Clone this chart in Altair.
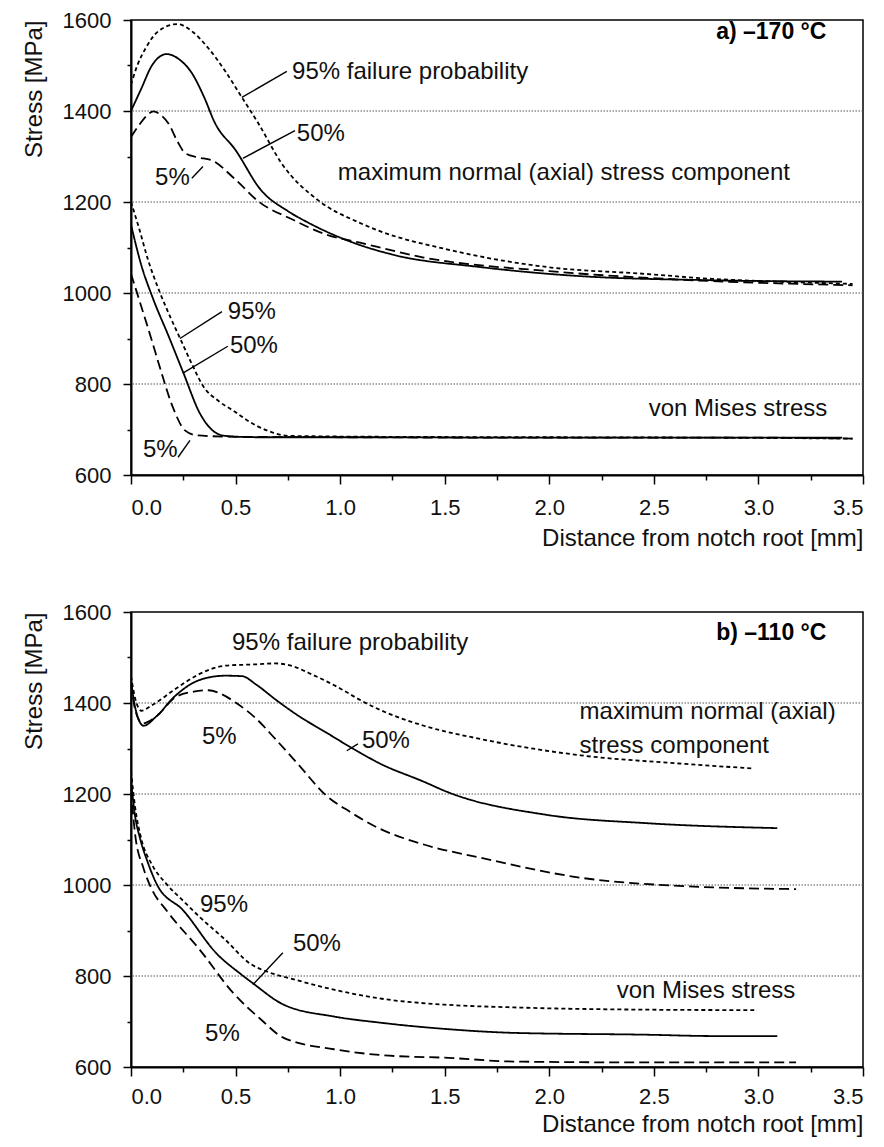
import altair as alt
import pandas as pd

FONT = "Liberation Sans"

# ---------------- Panel a) -170 °C ----------------
a_ax95_x = [0.0, 0.03, 0.07, 0.13, 0.22, 0.30, 0.37, 0.45, 0.53, 0.61, 0.72, 0.90, 1.09, 1.19, 1.51, 1.99, 2.46, 2.78, 3.10, 3.45]
a_ax95_y = [1458, 1500, 1538, 1575, 1591, 1572, 1538, 1488, 1430, 1372, 1285, 1202, 1155, 1136, 1096, 1057, 1042, 1031, 1025, 1020]
a_ax50_x = [0.0, 0.05, 0.10, 0.17, 0.24, 0.29, 0.35, 0.40, 0.50, 0.62, 0.75, 0.85, 1.02, 1.245, 1.67, 2.15, 2.78, 3.40]
a_ax50_y = [1400, 1450, 1500, 1525, 1510, 1484, 1430, 1375, 1314, 1227, 1180, 1154, 1118, 1085, 1057, 1037, 1028, 1025]
a_ax5_x = [0.0, 0.04, 0.08, 0.107, 0.14, 0.18, 0.22, 0.26, 0.32, 0.385, 0.50, 0.61, 0.77, 0.93, 1.10, 1.40, 2.00, 2.60, 3.45]
a_ax5_y = [1343, 1370, 1392, 1399, 1392, 1372, 1335, 1307, 1298, 1292, 1249, 1201, 1162, 1129, 1110, 1078, 1048, 1030, 1017]
a_vm95_x = [0.0, 0.04, 0.08, 0.139, 0.19, 0.234, 0.29, 0.344, 0.42, 0.49, 0.57, 0.65, 0.75, 1.2, 2.0, 2.8, 3.45]
a_vm95_y = [1200, 1140, 1075, 1000, 945, 901, 845, 796, 762, 741, 716, 698, 686, 684, 683, 682, 680]
a_vm50_x = [0.0, 0.05, 0.105, 0.18, 0.25, 0.33, 0.39, 0.45, 0.6, 1.0, 2.0, 3.0, 3.4]
a_vm50_y = [1150, 1060, 988, 905, 825, 735, 698, 686, 683, 683, 682, 682, 682]
a_vm5_x = [0.0, 0.057, 0.10, 0.139, 0.2, 0.258, 0.315, 0.5, 1.0, 2.0, 3.0, 3.45]
a_vm5_y = [1042, 959, 895, 835, 749, 698, 687, 684, 683, 682, 682, 680]

a_text_label = ["95% failure probability", "50%", "5%", "maximum normal (axial) stress component",
                "95%", "50%", "5%", "von Mises stress"]
a_text_x = [0.77, 0.793, 0.115, 0.989, 0.463, 0.473, 0.057, 2.475]
a_text_y = [1485, 1350, 1252, 1263, 959, 883, 654, 746]
a_lead_x = [0.530, 0.535, 0.291, 0.234, 0.248, 0.225]
a_lead_y = [1430, 1296, 1252, 900, 824, 639]
a_lead_x2 = [0.745, 0.784, 0.344, 0.435, 0.463, 0.282]
a_lead_y2 = [1487, 1357, 1278, 959, 883, 676]
a_tag = "a) \u2013170 \u00b0C"
a_tag_x, a_tag_y = 3.325, 1574

# ---------------- Panel b) -110 °C ----------------
b_ax95_x = [0.0, 0.02, 0.05, 0.10, 0.21, 0.32, 0.45, 0.60, 0.69, 0.78, 0.85, 1.0, 1.09, 1.19, 1.40, 1.67, 2.15, 2.62, 2.98]
b_ax95_y = [1459, 1410, 1383, 1395, 1430, 1462, 1482, 1485, 1487, 1480, 1466, 1432, 1408, 1385, 1350, 1321, 1285, 1267, 1256]
b_ax50_x = [0.0, 0.02, 0.06, 0.12, 0.21, 0.30, 0.37, 0.45, 0.53, 0.60, 0.69, 0.80, 0.93, 1.09, 1.19, 1.40, 1.51, 1.99, 2.46, 3.09]
b_ax50_y = [1450, 1390, 1350, 1370, 1415, 1445, 1456, 1460, 1459, 1440, 1408, 1372, 1336, 1292, 1267, 1227, 1205, 1154, 1136, 1125]
b_ax5_x = [0.0, 0.02, 0.055, 0.12, 0.21, 0.30, 0.37, 0.43, 0.50, 0.60, 0.69, 0.80, 0.93, 1.05, 1.17, 1.40, 1.67, 2.15, 2.62, 3.18]
b_ax5_y = [1445, 1385, 1355, 1370, 1412, 1425, 1428, 1420, 1401, 1365, 1321, 1265, 1198, 1160, 1128, 1089, 1060, 1016, 998, 991]
b_vm95_x = [0.0, 0.02, 0.05, 0.10, 0.17, 0.25, 0.33, 0.45, 0.57, 0.66, 0.76, 0.97, 1.2, 1.5, 1.83, 2.46, 2.98]
b_vm95_y = [1250, 1170, 1100, 1045, 1002, 965, 929, 880, 827, 808, 795, 770, 750, 737, 731, 726, 725]
b_vm50_x = [0.0, 0.02, 0.043, 0.08, 0.123, 0.25, 0.41, 0.52, 0.58, 0.73, 0.97, 1.2, 1.52, 1.83, 2.46, 2.8, 3.09]
b_vm50_y = [1230, 1150, 1103, 1050, 1002, 944, 849, 806, 785, 737, 711, 697, 683, 675, 671, 668, 668]
b_vm5_x = [0.0, 0.02, 0.059, 0.10, 0.17, 0.33, 0.49, 0.62, 0.73, 0.97, 1.2, 1.52, 1.83, 2.5, 3.18]
b_vm5_y = [1210, 1110, 1038, 990, 944, 857, 762, 705, 664, 639, 626, 620, 612, 610, 610]

b_text_label = ["95% failure probability", "5%", "50%", "maximum normal (axial)", "stress component",
                "95%", "50%", "5%", "von Mises stress"]
b_text_x = [0.483, 0.339, 1.104, 2.145, 2.145, 0.330, 0.774, 0.354, 2.322]
b_text_y = [1532, 1325, 1317, 1380, 1306, 955, 870, 672, 766]
b_lead_x = [1.032, 0.583]
b_lead_y = [1295, 781]
b_lead_x2 = [1.085, 0.726]
b_lead_y2 = [1310, 851]
b_tag = "b) \u2013110 \u00b0C"
b_tag_x, b_tag_y = 3.325, 1554

grid_values = [800, 1000, 1200, 1400]
probs = ["95%", "50%", "5%"]
dashes = [[4, 3], [1, 0], [10, 5]]


def curves_df(curves):
    rows = []
    for name, prob, xs, ys in curves:
        for i, (xv, yv) in enumerate(zip(xs, ys)):
            rows.append({"curve": name, "prob": prob, "idx": i, "x": xv, "y": yv})
    return pd.DataFrame(rows)


def make_x_axis(label_pad, title_pad):
    return alt.Axis(
        values=[i * 0.25 for i in range(15)],
        labelExpr="datum.value % 0.5 == 0 ? format(datum.value, '.1f') : ''",
        tickSize={"condition": {"test": "datum.value % 0.5 == 0", "value": 9}, "value": 5},
        title="Distance from notch root [mm]", titleAnchor="end",
        grid=False, labelPadding=label_pad, titlePadding=title_pad,
    )


y_axis = alt.Axis(
    values=list(range(600, 1601, 100)), format="d",
    labelExpr="datum.value % 200 == 0 ? datum.label : ''",
    tickSize={"condition": {"test": "datum.value % 200 == 0", "value": 8}, "value": 4},
    title="Stress [MPa]", titleAnchor="end",
    grid=False, labelPadding=12, titlePadding=16,
)


def make_panel(curves, tl, tx, ty, lx, ly, lx2, ly2, tag, tagx, tagy, label_pad, title_pad):
    x_axis = make_x_axis(label_pad, title_pad)

    def X():
        return alt.X("x:Q", scale=alt.Scale(domain=[0, 3.5], nice=False, zero=False), axis=x_axis)

    def Y():
        return alt.Y("y:Q", scale=alt.Scale(domain=[600, 1600], nice=False, zero=False), axis=y_axis)

    grid = alt.Chart(pd.DataFrame({"y": grid_values})).mark_rule(
        color="#555555", strokeDash=[1.5, 1.5], strokeWidth=1
    ).encode(y=Y())
    lines = alt.Chart(curves_df(curves)).mark_line(
        color="black", strokeWidth=1.8, clip=True, interpolate="monotone"
    ).encode(
        x=X(), y=Y(), detail="curve:N", order="idx:Q",
        strokeDash=alt.StrokeDash("prob:N", scale=alt.Scale(domain=probs, range=dashes), legend=None),
    )
    leaders = alt.Chart(pd.DataFrame({"x": lx, "y": ly, "x2": lx2, "y2": ly2})).mark_rule(
        color="black", strokeWidth=1.4
    ).encode(x=X(), y=Y(), x2="x2:Q", y2="y2:Q")
    texts = alt.Chart(pd.DataFrame({"x": tx, "y": ty, "label": tl})).mark_text(
        align="left", baseline="middle", fontSize=24, font=FONT, color="#111111"
    ).encode(x=X(), y=Y(), text="label:N")
    tagc = alt.Chart(pd.DataFrame({"x": [tagx], "y": [tagy], "label": [tag]})).mark_text(
        align="right", baseline="middle", fontSize=23, font=FONT, fontWeight="bold", color="black"
    ).encode(x=X(), y=Y(), text="label:N")
    return alt.layer(grid, lines, leaders, texts, tagc).properties(width=732, height=455)


panel_a = make_panel(
    [("ax95", "95%", a_ax95_x, a_ax95_y), ("ax50", "50%", a_ax50_x, a_ax50_y), ("ax5", "5%", a_ax5_x, a_ax5_y),
     ("vm95", "95%", a_vm95_x, a_vm95_y), ("vm50", "50%", a_vm50_x, a_vm50_y), ("vm5", "5%", a_vm5_x, a_vm5_y)],
    a_text_label, a_text_x, a_text_y, a_lead_x, a_lead_y, a_lead_x2, a_lead_y2, a_tag, a_tag_x, a_tag_y, 13, 8,
)
panel_b = make_panel(
    [("ax95", "95%", b_ax95_x, b_ax95_y), ("ax50", "50%", b_ax50_x, b_ax50_y), ("ax5", "5%", b_ax5_x, b_ax5_y),
     ("vm95", "95%", b_vm95_x, b_vm95_y), ("vm50", "50%", b_vm50_x, b_vm50_y), ("vm5", "5%", b_vm5_x, b_vm5_y)],
    b_text_label, b_text_x, b_text_y, b_lead_x, b_lead_y, b_lead_x2, b_lead_y2, b_tag, b_tag_x, b_tag_y, 10, 5,
)

chart = alt.vconcat(panel_a, panel_b, spacing=49).properties(
    padding={"left": 13, "top": 0, "right": 0, "bottom": 0}, background="white"
).configure_view(
    stroke="black", strokeWidth=1.5
).configure_axis(
    labelFont=FONT, titleFont=FONT, labelFontSize=22, titleFontSize=24,
    labelColor="#111111", titleColor="#111111", titleFontWeight="normal",
    domainColor="black", domainWidth=2, tickColor="black", tickWidth=1.5,
)

chart.save("out.html", embed_options={"renderer": "svg", "actions": False})
